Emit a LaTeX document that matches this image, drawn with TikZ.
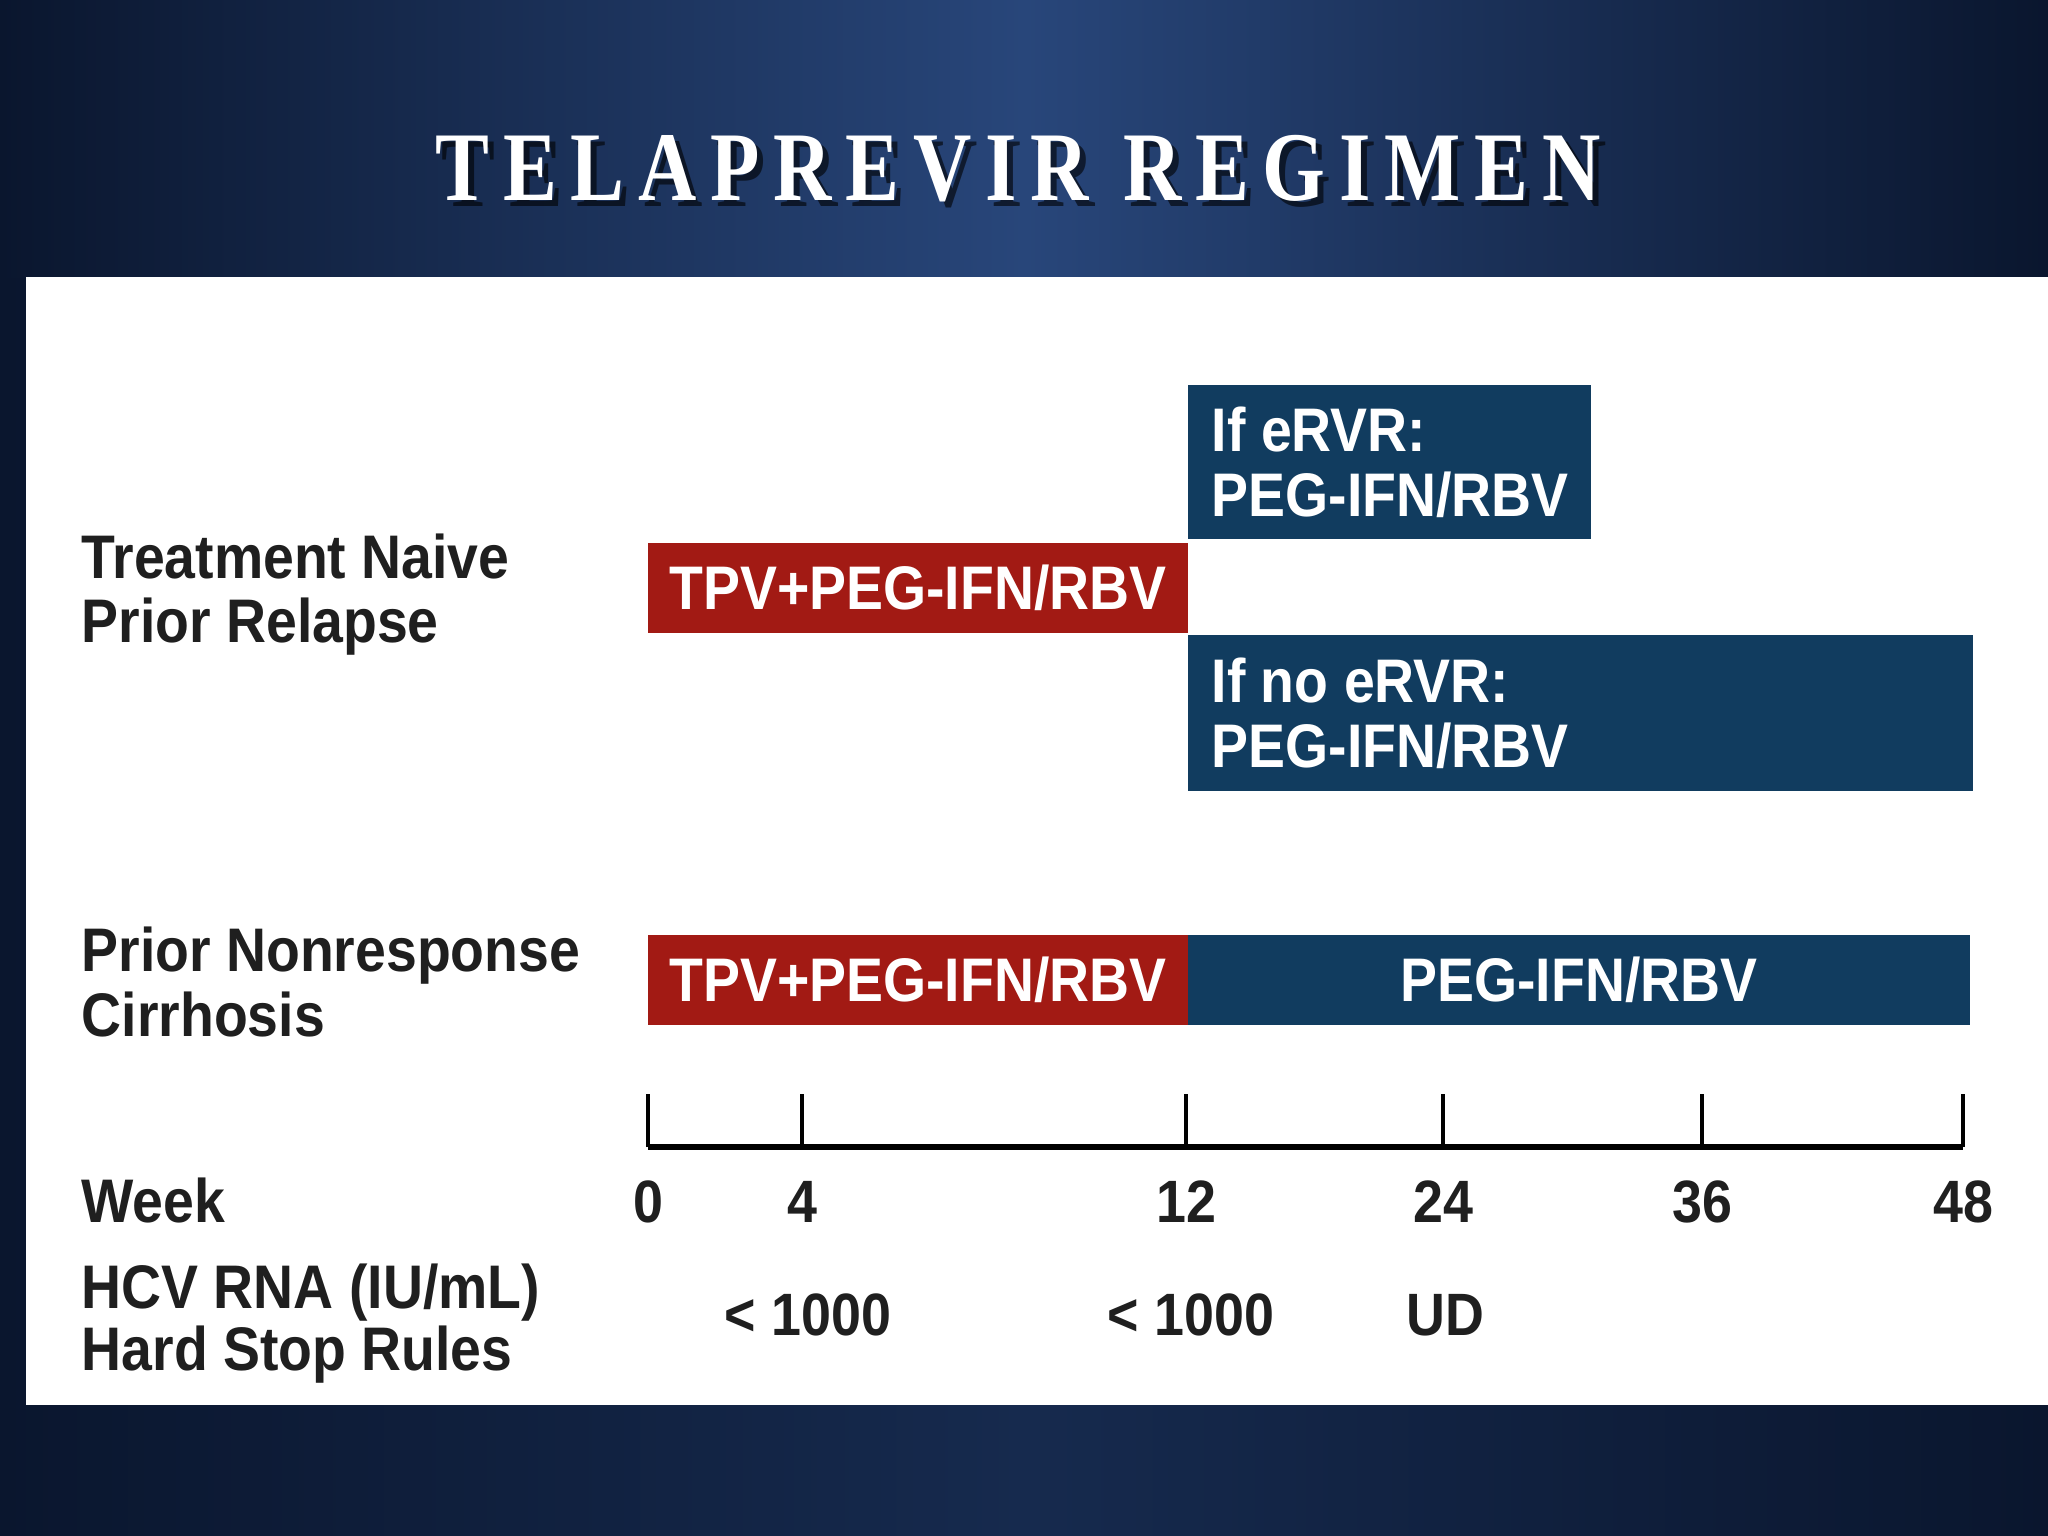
\documentclass[tikz,border=0pt]{standalone}
\usepackage{fontspec}
\setmainfont{Liberation Sans}
\newfontfamily\chartfont{Liberation Sans}[FakeStretch=0.9]
\newfontfamily\titlefont{Liberation Serif}[FakeStretch=0.82,LetterSpace=14]
\definecolor{bgedge}{RGB}{10,22,46}
\definecolor{bgmid}{RGB}{40,70,122}
\definecolor{bglow}{RGB}{22,42,78}
\definecolor{tpvred}{RGB}{162,26,20}
\definecolor{pegblue}{RGB}{17,60,95}
\begin{document}
\begin{tikzpicture}[x=0.01cm, y=-0.01cm,
    bar/.style={inner sep=0pt, text=white, font=\chartfont\bfseries\fontsize{17.5}{18.5}\selectfont},
    redbar/.style={bar, fill=tpvred},
    bluebar/.style={bar, fill=pegblue},
    bartxt/.style={bar, align=left, anchor=west},
    lbl/.style={anchor=base west, inner sep=0pt, text=black!88, font=\chartfont\bfseries\fontsize{17.5}{18.5}\selectfont},
    wklbl/.style={anchor=base, inner sep=0pt, text=black!88, font=\chartfont\bfseries\fontsize{17}{18}\selectfont},
    ttl/.style={anchor=base west, inner sep=0pt, font=\titlefont\bfseries\fontsize{28}{30}\selectfont}]
\useasboundingbox (0,0) rectangle (2048,1536);
% background and panel
\shade[left color=bgedge, right color=bgedge, middle color=bglow] (0,0) rectangle (2048,1536);
\shade[left color=bgedge, right color=bgedge, middle color=bgmid] (0,0) rectangle (2048,277);
\node[ttl, text=black, opacity=0.6] at (441,206) {TELAPREVIR REGIMEN};
\node[ttl, text=white] (title) at (435,200) {TELAPREVIR REGIMEN};
\fill[white] (26,277) rectangle (2048,1405);
% row labels
\node[lbl] (naive) at (81,578) {Treatment Naive};
\node[lbl] (relapse) at (81,642) {Prior Relapse};
\node[lbl] (nonresp) at (81,971) {Prior Nonresponse};
\node[lbl] (cirr) at (81,1036) {Cirrhosis};
% bars
\node[redbar, minimum width=5.40cm, minimum height=0.90cm] (tpvA) at (918,588) {TPV+PEG-IFN/RBV};
\node[bluebar, minimum width=4.03cm, minimum height=1.54cm] (ervr) at (1389.5,462) {};
\node[bartxt] (ervrtxt) at ([xshift=0.24cm]ervr.west) {If eRVR:\\PEG-IFN/RBV};
\node[bluebar, minimum width=7.85cm, minimum height=1.56cm] (noervr) at (1580.5,713) {};
\node[bartxt] (noervrtxt) at ([xshift=0.24cm]noervr.west) {If no eRVR:\\PEG-IFN/RBV};
\node[redbar, minimum width=5.40cm, minimum height=0.90cm] (tpvB) at (918,980) {TPV+PEG-IFN/RBV};
\node[bluebar, minimum width=7.82cm, minimum height=0.90cm] (pegB) at (1579,980) {PEG-IFN/RBV};
% time axis
\foreach \wk/\xx in {0/648,4/802,12/1186,24/1443,36/1702,48/1963}
{
    \coordinate (t\wk) at (\xx,1147);
    \draw[line width=1.3pt] (t\wk)--++(0,-53);
    \node[wklbl] (w\wk) at (\xx,1222) {\wk};
}
\draw[line width=1.9pt] (t0)--(t48);
\node[lbl] (week) at (81,1222) {Week};
\node[lbl] (hcv) at (81,1308) {HCV RNA (IU/mL)};
\node[lbl] (stop) at (81,1370) {Hard Stop Rules};
\node[wklbl] (r4) at (808,1335) {< 1000};
\node[wklbl] (r12) at (1191,1335) {< 1000};
\node[wklbl] (r24) at (1445,1335) {UD};
\end{tikzpicture}
\end{document}
